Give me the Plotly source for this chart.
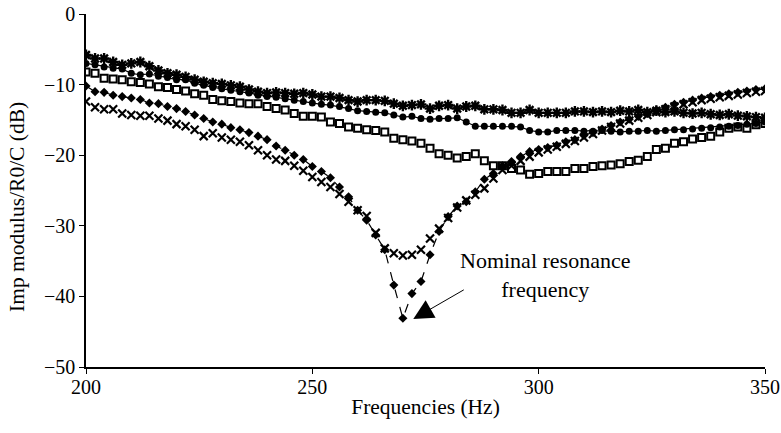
import plotly.graph_objects as go

# Frequency grid (Hz)
freq = list(range(200, 351, 2))

# Impedance modulus / R0 / C (dB) for the five measured configurations
stars = [
    -5.8, -6.3, -6.3, -6.8, -7.2, -7.0, -6.8, -7.4, -8.0, -8.4,
    -8.6, -8.9, -9.3, -9.6, -9.8, -9.9, -10.1, -10.3, -10.7, -11.0,
    -11.2, -11.1, -11.2, -11.3, -11.2, -11.4, -11.7, -11.7, -11.9, -12.2,
    -12.4, -12.2, -12.2, -12.3, -12.7, -13.0, -12.9, -12.8, -13.4, -13.0,
    -12.9, -13.4, -13.1, -13.0, -13.5, -13.5, -13.6, -14.0, -14.0, -13.6,
    -14.0, -14.0, -14.0, -14.0, -13.8, -13.8, -13.9, -13.8, -13.9, -13.7,
    -13.8, -13.6, -13.9, -13.7, -13.9, -13.8, -14.0, -14.1, -14.0, -14.2,
    -14.3, -14.2, -14.4, -14.5, -14.6, -14.7,
]
dots = [
    -7.0, -7.2, -7.5, -7.7, -7.8, -8.4, -8.6, -8.5, -8.8, -9.0,
    -9.3, -9.3, -9.8, -10.1, -10.4, -10.6, -10.8, -11.0, -11.2, -11.5,
    -11.7, -11.8, -12.0, -12.2, -12.4, -12.6, -12.8, -12.9, -13.1, -13.4,
    -13.7, -13.8, -13.9, -14.0, -14.3, -14.6, -14.5, -14.8, -14.9, -14.8,
    -14.8, -14.7, -15.3, -15.9, -15.9, -15.9, -15.9, -15.9, -16.0, -16.5,
    -16.7, -16.7, -16.5, -16.5, -16.5, -16.6, -16.6, -16.5, -16.6, -16.7,
    -16.6, -16.6, -16.5, -16.6, -16.5, -16.4, -16.4, -16.3, -16.2, -16.1,
    -16.0, -15.9, -15.8, -15.6, -15.5, -15.3,
]
squares = [
    -8.2, -8.4, -9.1, -9.2, -9.3, -9.6, -9.7, -9.9, -10.3, -10.4,
    -10.7, -10.9, -11.3, -11.5, -12.1, -12.3, -12.4, -12.6, -12.7, -12.7,
    -13.1, -13.4, -13.6, -14.1, -14.5, -14.5, -14.6, -15.3, -15.5, -16.0,
    -16.2, -16.4, -16.5, -16.7, -17.6, -17.8, -18.0, -18.3, -19.0, -19.8,
    -20.0, -20.4, -20.2, -19.8, -20.8, -21.5, -21.5, -21.9, -22.1, -22.7,
    -22.6, -22.3, -22.3, -22.3, -21.9, -21.9, -21.6, -21.5, -21.4, -21.2,
    -20.9, -20.7, -20.2, -19.2, -19.0, -18.3, -18.1, -17.7, -17.5, -17.3,
    -16.7, -16.2, -16.0, -16.2, -15.7, -15.5,
]
diamonds = [
    -10.2, -11.0, -11.1, -11.5, -11.7, -11.9, -12.1, -12.6, -12.7, -13.1,
    -13.4, -13.8, -14.3, -14.8, -15.3, -15.6, -16.1, -16.4, -16.8, -17.3,
    -17.8, -18.7, -19.3, -20.0, -20.6, -21.6, -22.3, -23.2, -24.5, -25.9,
    -27.8, -29.2, -31.3, -33.4, -38.4, -43.1, -39.6, -37.9, -34.1, -30.8,
    -28.7, -27.2, -26.6, -25.2, -23.4, -22.6, -21.5, -20.9, -20.2, -19.5,
    -19.2, -18.9, -18.6, -18.1, -17.8, -17.2, -16.8, -16.3, -15.8, -15.3,
    -14.9, -14.5, -14.1, -13.6, -13.2, -12.8, -12.5, -12.2, -11.9, -11.7,
    -11.5, -11.3, -11.1, -10.9, -10.7, -10.6,
]
crosses = [
    -12.4, -13.2, -13.5, -13.5, -14.1, -14.3, -14.4, -14.4, -14.8, -15.1,
    -15.6, -15.9, -16.4, -17.3, -16.9, -17.5, -17.8, -18.1, -18.6, -19.3,
    -20.0, -20.6, -20.8, -21.5, -22.2, -23.1, -23.8, -24.5, -25.5, -26.6,
    -27.8, -28.6, -31.0, -33.2, -33.9, -34.2, -34.1, -33.4, -31.8, -30.4,
    -28.9, -27.4, -26.4, -25.6, -24.7, -23.3, -22.1, -21.5, -20.8, -20.2,
    -19.6, -19.2, -18.8, -18.4, -18.0, -17.5, -17.0, -16.5, -16.0, -15.5,
    -15.1, -14.7, -14.3, -13.9, -13.5, -13.1, -12.8, -12.5, -12.2, -12.0,
    -11.8, -11.6, -11.4, -11.2, -11.0, -10.9,
]

# Nominal resonance point (minimum of the dashed curve)
res_idx = diamonds.index(min(diamonds))
res_f, res_db = freq[res_idx], diamonds[res_idx]

x_ticks = [200, 250, 300, 350]
y_ticks = [0, -10, -20, -30, -40, -50]

SERIF = "Liberation Serif, Times New Roman, serif"
BLACK = "#000000"

W, H = 781, 433
ML, MR, MT, MB = 86, 16, 14, 66

fig = go.Figure()

fig.add_trace(go.Scatter(
    x=freq, y=stars, mode="lines+markers",
    line=dict(color=BLACK, width=1.2),
    marker=dict(symbol="asterisk-open", size=9, color=BLACK,
                line=dict(color=BLACK, width=2.4)),
    showlegend=False))
fig.add_trace(go.Scatter(
    x=freq, y=dots, mode="lines+markers",
    line=dict(color=BLACK, width=1.2),
    marker=dict(symbol="circle", size=7, color=BLACK),
    showlegend=False))
fig.add_trace(go.Scatter(
    x=freq, y=squares, mode="markers",
    marker=dict(symbol="square-open", size=7, color=BLACK,
                line=dict(color=BLACK, width=2)),
    showlegend=False))
fig.add_trace(go.Scatter(
    x=freq, y=diamonds, mode="lines+markers",
    line=dict(color=BLACK, width=1.2, dash="dash"),
    marker=dict(symbol="diamond", size=7, color=BLACK),
    showlegend=False))
fig.add_trace(go.Scatter(
    x=freq, y=crosses, mode="markers",
    marker=dict(symbol="x-thin-open", size=8, color=BLACK,
                line=dict(color=BLACK, width=2.2)),
    showlegend=False))

# Arrow pointing at the nominal resonance
fig.add_annotation(
    x=res_f + 2.3, y=res_db - 0.1, xref="x", yref="y",
    ax=52, ay=-30, axref="pixel", ayref="pixel",
    text="", showarrow=True, arrowhead=2, arrowsize=4,
    arrowwidth=1, arrowcolor=BLACK)
fig.add_annotation(
    x=301.5, y=-37.0, xref="x", yref="y",
    text="Nominal resonance<br>frequency", showarrow=False,
    font=dict(family=SERIF, size=22, color=BLACK), align="center")

# Vertical axis title, positioned in pixels relative to the plot area
pw, ph = W - ML - MR, H - MT - MB
fig.add_annotation(
    x=(17 - ML) / pw, y=1 - (207 - MT) / ph, xref="paper", yref="paper",
    xanchor="center", yanchor="middle",
    text="Imp modulus/R0/C (dB)", showarrow=False, textangle=-90,
    font=dict(family=SERIF, size=21.5, color=BLACK))

fig.update_layout(
    width=W, height=H,
    margin=dict(l=ML, r=MR, t=MT, b=MB, autoexpand=False),
    paper_bgcolor="white", plot_bgcolor="white",
    font=dict(family=SERIF, size=20, color=BLACK),
    xaxis=dict(
        range=[200, 350], tickvals=x_ticks, showgrid=False, zeroline=False,
        showline=True, linecolor=BLACK, linewidth=1.5,
        ticks="outside", ticklen=5, tickwidth=1.2, tickcolor=BLACK,
        ticklabelstandoff=-4, ticklabeloverflow="allow", automargin=False,
        title=dict(text="Frequencies (Hz)", standoff=2,
                   font=dict(family=SERIF, size=21.5, color=BLACK)),
    ),
    yaxis=dict(
        range=[-50, 0], tickvals=y_ticks, showgrid=False, zeroline=False,
        showline=True, linecolor=BLACK, linewidth=1.5,
        ticks="outside", ticklen=5, tickwidth=1.2, tickcolor=BLACK,
        ticklabeloverflow="allow", automargin=False,
    ),
)

fig.write_html("out.html")
